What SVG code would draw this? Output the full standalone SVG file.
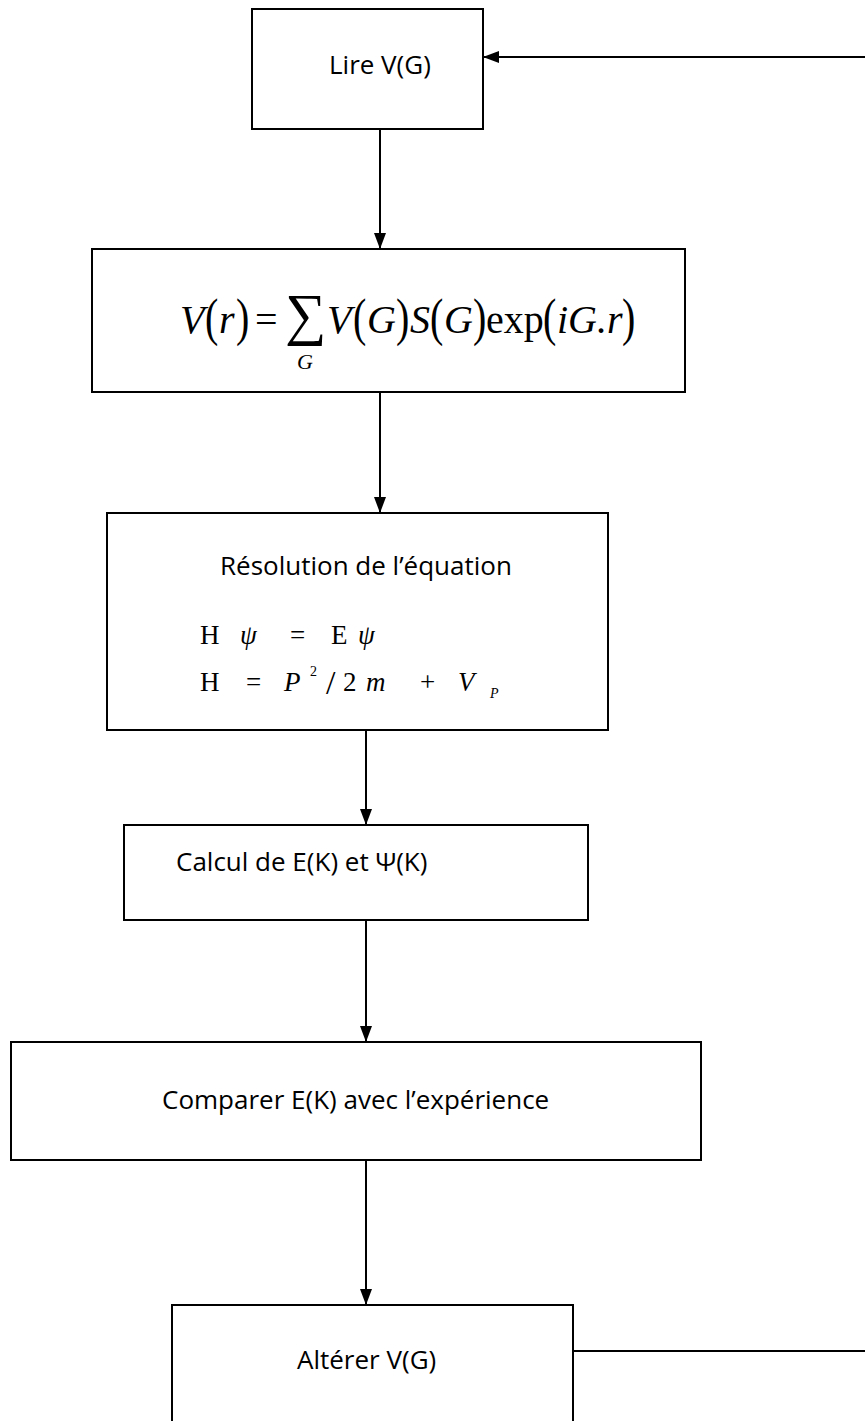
<svg xmlns="http://www.w3.org/2000/svg" width="865" height="1421" viewBox="0 0 865 1421">
<style>
.box{fill:#fff;stroke:#000;stroke-width:2}
.conn{stroke:#000;stroke-width:2;fill:none}
.lbl{font-family:"Open Sans","Liberation Sans",sans-serif;font-size:26px;fill:#000}
.m{font-family:"Liberation Serif","DejaVu Serif",serif;fill:#000}
.f{font-size:40px}
.i{font-style:italic}
.h{font-size:27px}
</style>
<defs>
<marker id="ah" markerWidth="16" markerHeight="12" refX="15" refY="6" orient="auto" markerUnits="userSpaceOnUse">
<path d="M0,0 L16,6 L0,12 Z" fill="#000"/>
</marker>
</defs>
<g id="connectors">
<line class="conn" x1="380" y1="130" x2="380" y2="248" marker-end="url(#ah)"/>
<line class="conn" x1="380" y1="392" x2="380" y2="512" marker-end="url(#ah)"/>
<line class="conn" x1="366" y1="730" x2="366" y2="824" marker-end="url(#ah)"/>
<line class="conn" x1="366" y1="920" x2="366" y2="1041" marker-end="url(#ah)"/>
<line class="conn" x1="366" y1="1160" x2="366" y2="1304" marker-end="url(#ah)"/>
<line class="conn" x1="573" y1="1351" x2="866" y2="1351"/>
<line class="conn" x1="866" y1="57" x2="484" y2="57" marker-end="url(#ah)"/>
</g>
<g id="n1">
<rect class="box" x="252" y="9" width="231" height="120"/>
<text class="lbl" x="329" y="74">Lire V(G)</text>
</g>
<g id="n2">
<rect class="box" x="92" y="249" width="593" height="143"/>
<g class="m f">
<text x="180" y="333" class="i">V</text>
<text transform="translate(205,335) scale(1,1.3)">(</text>
<text x="219" y="333" class="i">r</text>
<text transform="translate(236,335) scale(1,1.3)">)</text>
<text x="255" y="333">=</text>
<text x="285" y="334" font-size="58">∑</text>
<text x="327" y="333" class="i">V</text>
<text transform="translate(353,335) scale(1,1.3)">(</text>
<text x="367" y="333" class="i">G</text>
<text transform="translate(396,335) scale(1,1.3)">)</text>
<text x="410" y="333" class="i">S</text>
<text transform="translate(430,335) scale(1,1.3)">(</text>
<text x="444" y="333" class="i">G</text>
<text transform="translate(473,335) scale(1,1.3)">)</text>
<text x="486" y="333">exp</text>
<text transform="translate(543,335) scale(1,1.3)">(</text>
<text x="557" y="333" class="i">iG.r</text>
<text transform="translate(622,335) scale(1,1.3)">)</text>
</g>
<text class="m i" x="297" y="369" font-size="22">G</text>
</g>
<g id="n3">
<rect class="box" x="107" y="513" width="501" height="217"/>
<text class="lbl" x="220" y="575">Résolution de l’équation</text>
<g class="m h">
<text x="200" y="644">H</text>
<text x="240" y="644" class="i">ψ</text>
<text x="290" y="644">=</text>
<text x="331" y="644">E</text>
<text x="358" y="644" class="i">ψ</text>
<text x="200" y="691">H</text>
<text x="246" y="691">=</text>
<text x="284" y="691" class="i">P</text>
<text x="310" y="676" font-size="14">2</text>
<text x="326" y="694" font-size="34">/</text>
<text x="343" y="691">2</text>
<text x="366" y="691" class="i">m</text>
<text x="420" y="691">+</text>
<text x="458" y="691" class="i">V</text>
<text x="490" y="698" class="i" font-size="14">P</text>
</g>
</g>
<g id="n4">
<rect class="box" x="124" y="825" width="464" height="95"/>
<text class="lbl" x="176" y="871">Calcul de E(K) et Ψ(K)</text>
</g>
<g id="n5">
<rect class="box" x="11" y="1042" width="690" height="118"/>
<text class="lbl" x="162" y="1109">Comparer E(K) avec l’expérience</text>
</g>
<g id="n6">
<rect class="box" x="172" y="1305" width="401" height="130"/>
<text class="lbl" x="297" y="1369">Altérer V(G)</text>
</g>
</svg>
